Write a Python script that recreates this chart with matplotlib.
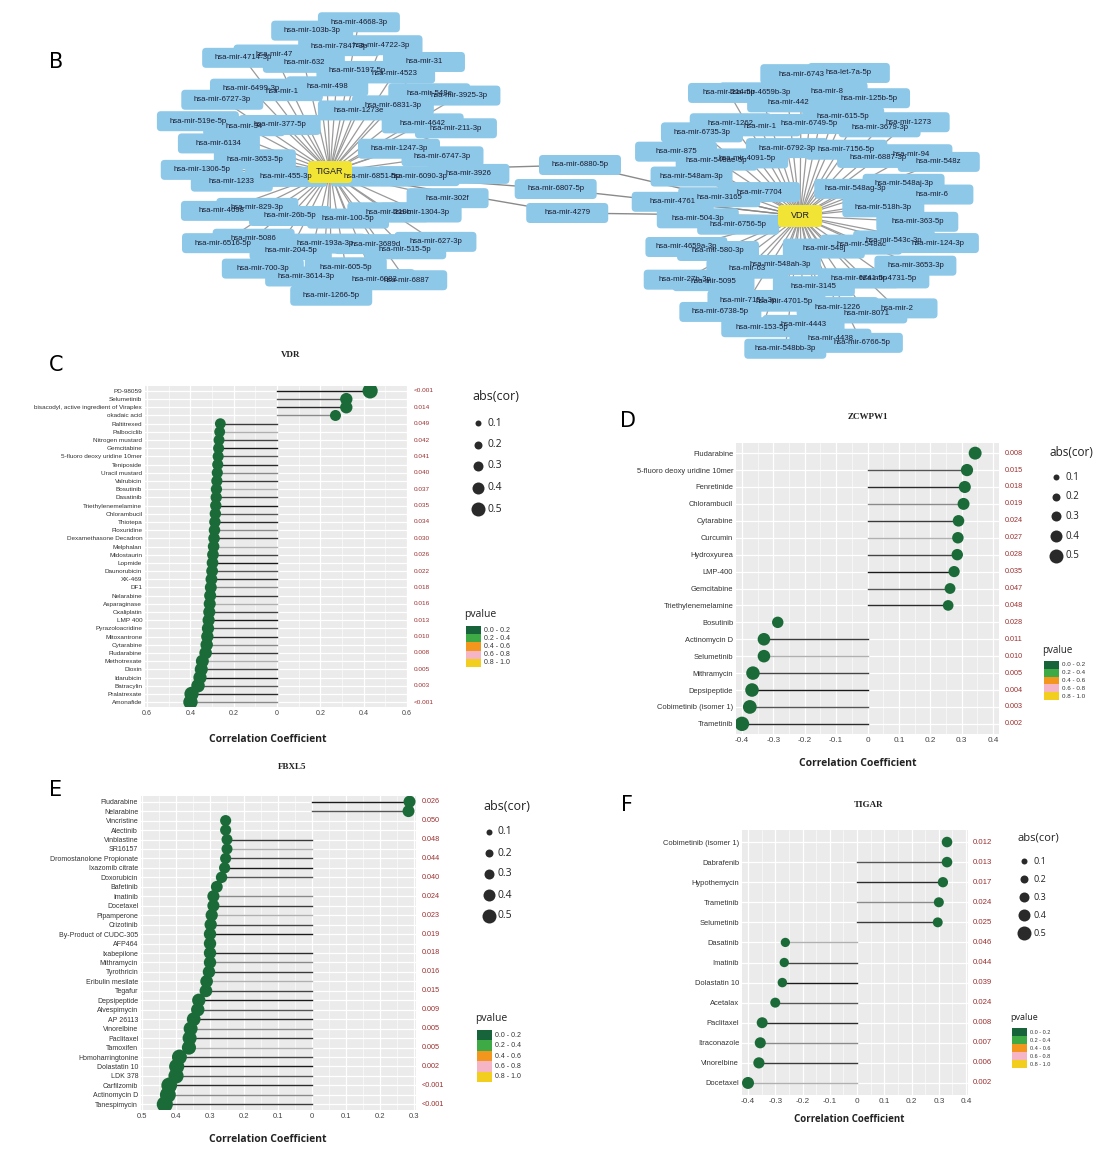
import numpy as np
import matplotlib.pyplot as plt
from matplotlib.patches import FancyBboxPatch, Rectangle

W, H = 1113, 1158

# ---------------- panel B: miRNA networks ----------------
tigar_mirs = ["hsa-mir-6851-5p", "hsa-mir-455-3p", "hsa-mir-1273e", "hsa-mir-100-5p",
              "hsa-mir-377-5p", "hsa-mir-1247-3p", "hsa-mir-26b-5p", "hsa-mir-498",
              "hsa-mir-219b", "hsa-mir-3653-5p", "hsa-mir-6831-3p", "hsa-mir-193a-3p",
              "hsa-mir-1", "hsa-mir-6090-3p", "hsa-mir-829-3p", "hsa-mir-5197-5p",
              "hsa-mir-3689d", "hsa-mir-34", "hsa-mir-4642", "hsa-mir-204-5p",
              "hsa-mir-632", "hsa-mir-1304-3p", "hsa-mir-1233", "hsa-mir-4523",
              "hsa-mir-605-5p", "hsa-mir-6499-3p", "hsa-mir-6747-3p", "hsa-mir-5086",
              "hsa-mir-7847-3p", "hsa-mir-515-5p", "hsa-mir-6134", "hsa-mir-548e",
              "hsa-mir-3614-3p", "hsa-mir-47", "hsa-mir-302f", "hsa-mir-4698",
              "hsa-mir-4722-3p", "hsa-mir-6083", "hsa-mir-6727-3p", "hsa-mir-211-3p",
              "hsa-mir-700-3p", "hsa-mir-103b-3p", "hsa-mir-627-3p", "hsa-mir-1306-5p",
              "hsa-mir-31", "hsa-mir-1266-5p", "hsa-mir-4714-3p", "hsa-mir-3926",
              "hsa-mir-6516-5p", "hsa-mir-4668-3p", "hsa-mir-6887", "hsa-mir-519e-5p",
              "hsa-mir-3925-3p"]
vdr_mirs = ["hsa-mir-548j", "hsa-mir-7704", "hsa-mir-548ag-3p", "hsa-mir-548ah-3p",
            "hsa-mir-6792-3p", "hsa-mir-548ac", "hsa-mir-6756-5p", "hsa-mir-7156-5p",
            "hsa-mir-3145", "hsa-mir-4091-5p", "hsa-mir-518h-3p", "hsa-mir-63",
            "hsa-mir-6749-5p", "hsa-mir-6741-5p", "hsa-mir-3165", "hsa-mir-6887-3p",
            "hsa-mir-4701-5p", "hsa-mir-1", "hsa-mir-543c-3p", "hsa-mir-580-3p",
            "hsa-mir-615-5p", "hsa-mir-1226", "hsa-mir-548ae-5p", "hsa-mir-548aj-3p",
            "hsa-mir-7151-3p", "hsa-mir-442", "hsa-mir-4731-5p", "hsa-mir-504-3p",
            "hsa-mir-3679-3p", "hsa-mir-4443", "hsa-mir-1262", "hsa-mir-363-5p",
            "hsa-mir-5095", "hsa-mir-8", "hsa-mir-8071", "hsa-mir-548am-3p",
            "hsa-mir-94", "hsa-mir-153-5p", "hsa-mir-4659b-3p", "hsa-mir-3653-3p",
            "hsa-mir-4659a-3p", "hsa-mir-125b-5p", "hsa-mir-4438", "hsa-mir-6735-3p",
            "hsa-mir-6", "hsa-mir-6738-5p", "hsa-mir-6743", "hsa-mir-2",
            "hsa-mir-4761", "hsa-mir-1273", "hsa-mir-548bb-3p", "hsa-mir-214-5p",
            "hsa-mir-124-3p", "hsa-mir-27b-3p", "hsa-let-7a-5p", "hsa-mir-6766-5p",
            "hsa-mir-875", "hsa-mir-548z"]
shared_mirs = ["hsa-mir-6880-5p", "hsa-mir-6807-5p", "hsa-mir-4279"]

# ---------------- panel C: VDR ----------------
vdr_drugs = ["PD-98059", "Selumetinib", "bisacodyl, active ingredient of Viraplex",
             "okadaic acid", "Raltitrexed", "Palbociclib", "Nitrogen mustard",
             "Gemcitabine", "5-fluoro deoxy uridine 10mer", "Teniposide",
             "Uracil mustard", "Valrubicin", "Bosutinib", "Dasatinib",
             "Triethylenemelamine", "Chlorambucil", "Thiotepa", "Floxuridine",
             "Dexamethasone Decadron", "Melphalan", "Midostaurin", "Lopmide",
             "Daunorubicin", "XK-469", "DF1", "Nelarabine", "Asparaginase",
             "Oxaliplatin", "LMP 400", "Pyrazoloacridine", "Mitoxantrone",
             "Cytarabine", "Fludarabine", "Methotrexate", "Dioxin", "Idarubicin",
             "Batracylin", "Pralatrexate", "Amonafide"]
vdr_cor = [0.43, 0.32, 0.32, 0.27, -0.262, -0.265, -0.268, -0.270, -0.272, -0.274,
           -0.276, -0.278, -0.280, -0.281, -0.283, -0.285, -0.287, -0.289, -0.291,
           -0.293, -0.296, -0.298, -0.300, -0.303, -0.306, -0.309, -0.311, -0.313,
           -0.316, -0.319, -0.322, -0.325, -0.330, -0.345, -0.350, -0.356, -0.365,
           -0.395, -0.400]
vdr_p = ["<0.001", "0.014", "0.049", "0.042", "0.041", "0.040", "0.037", "0.035",
         "0.034", "0.030", "0.026", "0.022", "0.018", "0.016", "0.013", "0.010",
         "0.008", "0.005", "0.003", "<0.001"]

# ---------------- panel D: ZCWPW1 ----------------
zc_drugs = ["Fludarabine", "5-fluoro deoxy uridine 10mer", "Fenretinide", "Chlorambucil",
            "Cytarabine", "Curcumin", "Hydroxyurea", "LMP-400", "Gemcitabine",
            "Triethylenemelamine", "Bosutinib", "Actinomycin D", "Selumetinib",
            "Mithramycin", "Depsipeptide", "Cobimetinib (isomer 1)", "Trametinib"]
zc_cor = [0.343, 0.317, 0.31, 0.306, 0.29, 0.288, 0.286, 0.276, 0.263, 0.257,
          -0.286, -0.33, -0.33, -0.365, -0.368, -0.375, -0.40]
zc_p = ["0.008", "0.015", "0.018", "0.019", "0.024", "0.027", "0.028", "0.035", "0.047",
        "0.048", "0.028", "0.011", "0.010", "0.005", "0.004", "0.003", "0.002"]

# ---------------- panel E: FBXL5 ----------------
fb_drugs = ["Fludarabine", "Nelarabine", "Vincristine", "Alectinib", "Vinblastine",
            "SR16157", "Dromostanolone Propionate", "Ixazomib citrate", "Doxorubicin",
            "Bafetinib", "Imatinib", "Docetaxel", "Pipamperone", "Crizotinib",
            "By-Product of CUDC-305", "AFP464", "Ixabepilone", "Mithramycin",
            "Tyrothricin", "Eribulin mesilate", "Tegafur", "Depsipeptide",
            "Alvespimycin", "AP 26113", "Vinorelbine", "Paclitaxel", "Tamoxifen",
            "Homoharringtonine", "Dolastatin 10", "LDK 378", "Carfilzomib",
            "Actinomycin D", "Tanespimycin"]
fb_cor = [0.287, 0.284, -0.254, -0.254, -0.250, -0.250, -0.254, -0.257, -0.266,
          -0.280, -0.290, -0.290, -0.295, -0.298, -0.300, -0.300, -0.300, -0.300,
          -0.303, -0.310, -0.312, -0.333, -0.336, -0.348, -0.357, -0.360, -0.362,
          -0.390, -0.398, -0.400, -0.420, -0.424, -0.433]
fb_p = ["0.026", "0.050", "0.048", "0.044", "0.040", "0.024", "0.023", "0.019", "0.018",
        "0.016", "0.015", "0.009", "0.005", "0.005", "0.002", "<0.001", "<0.001"]

# ---------------- panel F: TIGAR ----------------
tg_drugs = ["Cobimetinib (isomer 1)", "Dabrafenib", "Hypothemycin", "Trametinib",
            "Selumetinib", "Dasatinib", "Imatinib", "Dolastatin 10", "Acetalax",
            "Paclitaxel", "Itraconazole", "Vinorelbine", "Docetaxel"]
tg_cor = [0.33, 0.33, 0.315, 0.30, 0.296, -0.263, -0.267, -0.274, -0.30, -0.348,
          -0.355, -0.36, -0.40]
tg_p = ["0.012", "0.013", "0.017", "0.024", "0.025", "0.046", "0.044", "0.039",
        "0.024", "0.008", "0.007", "0.006", "0.002"]

size_levels = [0.1, 0.2, 0.3, 0.4, 0.5]
p_bins = ["0.0 - 0.2", "0.2 - 0.4", "0.4 - 0.6", "0.6 - 0.8", "0.8 - 1.0"]
p_colors = ["#17633A", "#3DAA45", "#F2961E", "#F6B5C6", "#F2CF1F"]

DOT = "#1B6B38"
PRED = "#9B2F2F"

fig = plt.figure(figsize=(W / 100, H / 100), dpi=100)
base = fig.add_axes([0, 0, 1, 1])
base.set_xlim(0, W)
base.set_ylim(H, 0)
base.axis("off")


def px_axes(left, top, right, bottom):
    return fig.add_axes([left / W, 1 - bottom / H, (right - left) / W, (bottom - top) / H])


def sunflower(n, cx, cy, rx, ry, r0, rot):
    ga = np.pi * (3 - np.sqrt(5))
    i = np.arange(n)
    r = r0 + (1 - r0) * np.sqrt((i + 0.5) / n)
    t = i * ga + rot
    return cx + rx * r * np.cos(t), cy + ry * r * np.sin(t)


def node(x, y, text, fc, w=82, h=20, fs=5.6):
    base.add_patch(FancyBboxPatch((x - w / 2, y - h / 2), w, h,
                                  boxstyle="round,pad=0,rounding_size=4",
                                  fc=fc, ec="none", zorder=3))
    base.text(x, y, text, ha="center", va="center", fontsize=fs,
              family="Liberation Sans", color="#1a1a2e", zorder=4)


hubs = {"TIGAR": (330, 172), "VDR": (800, 216)}
tx, ty = sunflower(len(tigar_mirs), 333, 160, 142, 144, 0.22, 0.4)
vx, vy = sunflower(len(vdr_mirs), 805, 210, 142, 148, 0.22, 1.1)
k = np.arange(len(shared_mirs))
sx = 566 + 14 * np.cos(k * 2.4)
sy = 165 + 24 * k

for x, y in zip(tx, ty):
    base.plot([hubs["TIGAR"][0], x], [hubs["TIGAR"][1], y], color="#9a9a9a", lw=0.9, zorder=2)
for x, y in zip(vx, vy):
    base.plot([hubs["VDR"][0], x], [hubs["VDR"][1], y], color="#9a9a9a", lw=0.9, zorder=2)
for x, y in zip(sx, sy):
    for hx, hy in hubs.values():
        base.plot([hx, x], [hy, y], color="#8a8a8a", lw=1.0, zorder=2)

for x, y, t in zip(tx, ty, tigar_mirs):
    node(x, y, t, "#8DC8E8")
for x, y, t in zip(vx, vy, vdr_mirs):
    node(x, y, t, "#8DC8E8")
for x, y, t in zip(sx, sy, shared_mirs):
    node(x, y, t, "#8DC8E8")
for name, (x, y) in hubs.items():
    node(x, y, name, "#F2E434", w=44, h=22, fs=6.5)

STEM_GREYS = ["#1a1a1a", "#555555", "#2b2b2b", "#8a8a8a", "#3a3a3a", "#b0b0b0", "#444444"]


def lollipop(box, drugs, cor, plabels, xlim, ticks, ticklabels, fs, pfs, dscale,
             no_stem=()):
    ax = px_axes(*box)
    n = len(drugs)
    y = np.arange(n)
    cor = np.array(cor)
    ax.set_facecolor("#EBEBEB")
    ax.set_xlim(*xlim)
    ax.set_ylim(n - 0.4, -0.6)
    for i, c in enumerate(cor):
        if i in no_stem:
            continue
        ax.plot([0, c], [i, i], color=STEM_GREYS[i % len(STEM_GREYS)], lw=1.0, zorder=2)
    d = (4 + dscale * np.abs(cor)) * 0.72
    ax.scatter(cor, y, s=d ** 2, color=DOT, lw=0, zorder=3)
    ax.set_yticks(y)
    ax.set_yticklabels(drugs, fontsize=fs, color="#333333", family="Liberation Sans")
    ax.set_xticks(ticks)
    ax.set_xticklabels(ticklabels, fontsize=fs + 0.5, color="#444444",
                       family="Liberation Sans")
    ax.set_xticks([(a + b) / 2 for a, b in zip(ticks[:-1], ticks[1:])], minor=True)
    ax.grid(True, which="major", color="white", lw=0.9, zorder=0)
    ax.grid(True, which="minor", axis="x", color="white", lw=0.4, zorder=0)
    ax.set_axisbelow(True)
    ax.tick_params(length=0, pad=2)
    ax.tick_params(which="minor", length=0)
    for s in ax.spines.values():
        s.set_visible(False)
    pos = np.linspace(0, n - 1, len(plabels))
    for yy, t in zip(pos, plabels):
        ax.text(1.02, yy, t, transform=ax.get_yaxis_transform(), fontsize=pfs,
                color=PRED, va="center", ha="left", family="Liberation Sans")
    return ax


def legend(x, y_title, y_dots, dy, y_ptitle, y_boxes, bh, fs):
    base.text(x, y_title, "abs(cor)", fontsize=fs + 1.5, family="Open Sans",
              va="center", ha="left", color="#222222")
    for j, v in enumerate(size_levels):
        d = (4 + 20 * v) * 0.72
        base.scatter([x + 6], [y_dots + j * dy], s=d ** 2, color="#2a2a2a", lw=0, zorder=5)
        base.text(x + 15, y_dots + j * dy, f"{v}", fontsize=fs, va="center",
                  family="Open Sans", color="#222222")
    base.text(x - 8, y_ptitle, "pvalue", fontsize=fs, family="Open Sans",
              va="center", ha="left", color="#222222")
    for j, (lab, col) in enumerate(zip(p_bins, p_colors)):
        base.add_patch(Rectangle((x - 6, y_boxes + j * bh), 15, bh, fc=col, ec="none",
                                 zorder=5))
        base.text(x + 12, y_boxes + (j + 0.5) * bh, lab, fontsize=fs - 2.5,
                  va="center", family="Liberation Sans", color="#333333")


# C
abs_lab6 = ["0.6", "0.4", "0.2", "0", "0.2", "0.4", "0.6"]
lollipop((145, 386, 408, 707), vdr_drugs, vdr_cor, vdr_p, (-0.61, 0.605),
         [-0.6, -0.4, -0.2, 0, 0.2, 0.4, 0.6], abs_lab6, 4.6, 4.6, 26)
# D
sgn4 = ["-0.4", "-0.3", "-0.2", "-0.1", "0", "0.1", "0.2", "0.3", "0.4"]
lollipop((736, 443, 999, 734), zc_drugs, zc_cor, zc_p, (-0.419, 0.419),
         [-0.4, -0.3, -0.2, -0.1, 0, 0.1, 0.2, 0.3, 0.4], sgn4, 5.4, 5.2, 26,
         no_stem=(0, 10))
# E
abs_lab5 = ["0.5", "0.4", "0.3", "0.2", "0.1", "0", "0.1", "0.2", "0.3"]
lollipop((141, 796, 416, 1110), fb_drugs, fb_cor, fb_p, (-0.503, 0.306),
         [-0.5, -0.4, -0.3, -0.2, -0.1, 0, 0.1, 0.2, 0.3], abs_lab5, 5.0, 5.2, 28,
         no_stem=(2, 3, 9, 15))
# F
lollipop((742, 830, 968, 1095), tg_drugs, tg_cor, tg_p, (-0.422, 0.407),
         [-0.4, -0.3, -0.2, -0.1, 0, 0.1, 0.2, 0.3, 0.4], sgn4, 5.4, 5.6, 20,
         no_stem=(0,))

legend(472, 396, 423, 21.5, 614, 626, 8.2, 7.5)
legend(1050, 453, 477, 19.7, 650, 661, 7.8, 7)
legend(483, 806, 832, 21, 1018, 1030, 10.4, 7.5)
legend(1018, 838, 861, 18, 1017, 1028, 8.0, 6.5)

# titles, axis labels, panel letters
for x, y, t in [(291, 355, "VDR"), (868, 417, "ZCWPW1"), (292, 767, "FBXL5"),
                (869, 805, "TIGAR")]:
    base.text(x, y, t, fontsize=6.5, family="Liberation Serif", weight="bold",
              ha="center", va="center", color="#222222")
for x, y, fs in [(268, 740, 7.5), (858, 763, 7.5), (268, 1140, 7.5), (849, 1120, 7)]:
    base.text(x, y, "Correlation Coefficient", fontsize=fs, family="Open Sans",
              weight="bold", ha="center", va="center", color="#222222")
for x, y, t in [(56, 62, "B"), (56, 365, "C"), (628, 421, "D"), (56, 790, "E"),
                (627, 805, "F")]:
    base.text(x, y, t, fontsize=15, family="DejaVu Sans", ha="center", va="center",
              color="black")

fig.savefig("out.png", dpi=100)
